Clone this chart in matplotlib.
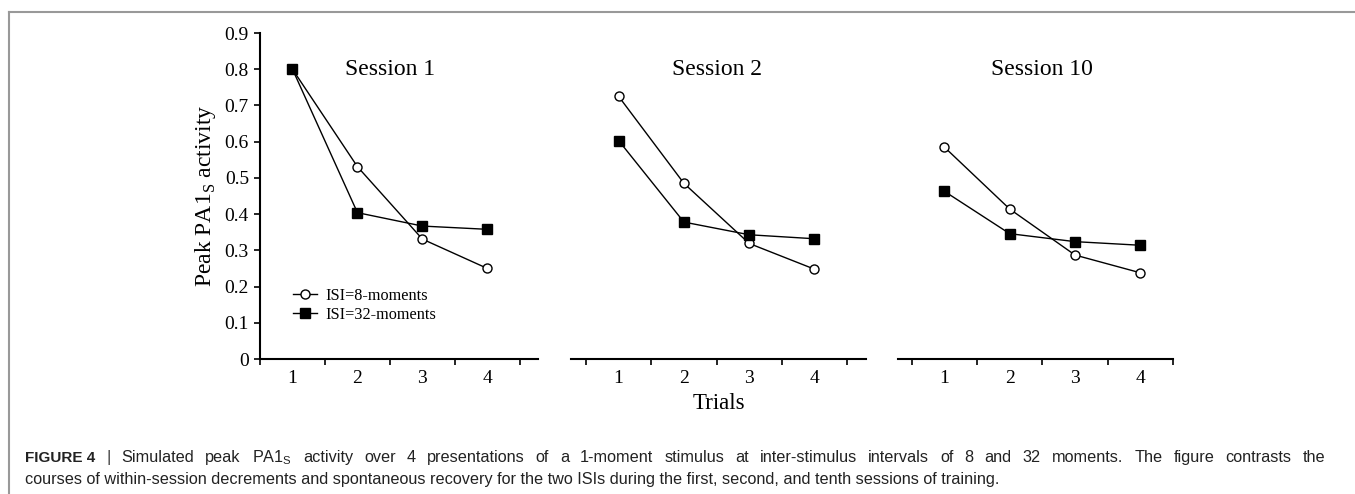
import matplotlib
matplotlib.use("Agg")
import matplotlib.pyplot as plt
from matplotlib.lines import Line2D

plt.rcParams['font.family'] = ['Liberation Serif', 'DejaVu Serif']
plt.rcParams['mathtext.fontset'] = 'custom'
plt.rcParams['mathtext.rm'] = 'Liberation Serif'
plt.rcParams['mathtext.sf'] = 'Liberation Sans'

# Peak PA1s activity per trial
trials = [1, 2, 3, 4]
sessions = ['Session 1', 'Session 2', 'Session 10']
isi8 = [
    [0.80, 0.531, 0.331, 0.250],
    [0.725, 0.485, 0.319, 0.248],
    [0.585, 0.414, 0.287, 0.238],
]
isi32 = [
    [0.80, 0.404, 0.367, 0.358],
    [0.603, 0.378, 0.343, 0.332],
    [0.463, 0.346, 0.324, 0.314],
]
yticks = [0, 0.1, 0.2, 0.3, 0.4, 0.5, 0.6, 0.7, 0.8, 0.9]
ytick_labels = ['0', '0.1', '0.2', '0.3', '0.4', '0.5', '0.6', '0.7', '0.8', '0.9']

W, H = 1355, 494
fig = plt.figure(figsize=(W / 100, H / 100), dpi=100)

# axes boxes in pixels (left, right) and x limits
boxes = [(260, 538, 0.5, 4.78), (571, 866, 0.27, 4.79), (898, 1173, 0.29, 4.5)]
top_px, bot_px = 33, 359

axes = []
for i, (l, r, x0, x1) in enumerate(boxes):
    ax = fig.add_axes([l / W, 1 - bot_px / H, (r - l) / W, (bot_px - top_px) / H])
    ax.set_xlim(x0, x1)
    ax.set_ylim(0, 0.9)
    for s in ['top', 'right']:
        ax.spines[s].set_visible(False)
    ax.spines['bottom'].set_linewidth(1.5)
    ax.spines['left'].set_linewidth(1.5)
    ax.set_xticks([0.5, 1.5, 2.5, 3.5, 4.5])
    ax.set_xticklabels([])
    ax.set_xticks(trials, minor=True)
    ax.set_xticklabels([str(t) for t in trials], minor=True)
    ax.tick_params(axis='x', which='major', direction='out', length=4, width=1.2)
    ax.tick_params(axis='x', which='minor', length=0, pad=8, labelsize=14)
    if i == 0:
        ax.set_yticks(yticks)
        ax.set_yticklabels(ytick_labels)
        ax.tick_params(axis='y', direction='out', length=4, width=1.2, labelsize=14, pad=4)
    else:
        ax.spines['left'].set_visible(False)
        ax.set_yticks([])

    ax.plot(trials, isi8[i], color='black', lw=1.0, marker='o', ms=6.5,
            mfc='white', mec='black', mew=1.0, label='ISI=8-moments', zorder=3)
    ax.plot(trials, isi32[i], color='black', lw=1.0, marker='s', ms=6.5,
            mfc='black', mec='black', label='ISI=32-moments', zorder=3)
    ax.text(2.5, 0.8, sessions[i], ha='center', va='center', fontsize=17)
    axes.append(ax)

axes[0].set_ylabel('Peak PA1$_\\mathrm{S}$ activity', fontsize=17)
axes[0].yaxis.set_label_coords(-0.15, 0.5)
axes[1].set_xlabel('Trials', fontsize=16.5, labelpad=4)

axes[0].legend(loc='upper left', bbox_to_anchor=(0.119, 0.218), frameon=False,
               fontsize=11.7, handlelength=1.5, handletextpad=0.5, labelspacing=0.2,
               borderpad=0, borderaxespad=0)

# frame lines around the figure
fig.add_artist(Line2D([9 / W, 1], [1 - 12 / H, 1 - 12 / H], color='#999999', lw=1.5))
fig.add_artist(Line2D([9 / W, 9 / W], [0, 1 - 12 / H], color='#999999', lw=1.5))

# caption: first line justified between 25 px and 1325 px
cap_font = ['Liberation Sans', 'DejaVu Sans']
cap_size = 11.7
words1 = ('Simulated peak PA1$_\\mathsf{S}$ activity over 4 presentations of a 1-moment stimulus '
          'at inter-stimulus intervals of 8 and 32 moments. The figure contrasts the').split(' ')
line2 = ('courses of within-session decrements and spontaneous recovery for the two ISIs '
         'during the first, second, and tenth sessions of training.')

fig.canvas.draw()
rend = fig.canvas.get_renderer()
y1 = 1 - 462 / H
tokens = []
t = fig.text(25 / W, y1, 'FIGURE 4', fontsize=11, fontweight='bold', family=cap_font, color='#222222')
tokens.append(t)
tokens.append(fig.text(0, y1, '|', fontsize=cap_size, family=cap_font, color='#444444'))
for w in words1:
    tokens.append(fig.text(0, y1, w, fontsize=cap_size, family=cap_font, color='#222222'))
widths = [tk.get_window_extent(rend).width for tk in tokens]
gap = (1325 - 25 - sum(widths)) / (len(tokens) - 1)
x = 25
for tk, wd in zip(tokens, widths):
    tk.set_x(x / W)
    x += wd + gap
fig.text(25 / W, 1 - 484 / H, line2, fontsize=cap_size, family=cap_font, color='#222222')

fig.savefig('out.png', dpi=100)
